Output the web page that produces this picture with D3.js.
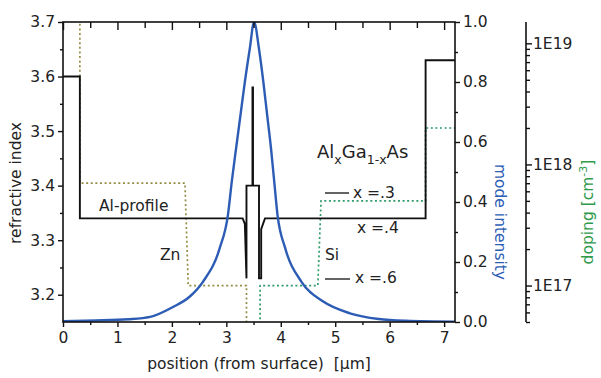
<!DOCTYPE html>
<html>
<head>
<meta charset="utf-8">
<script src="https://cdn.jsdelivr.net/npm/d3@7"></script>
<style>
  body { margin: 0; background: #fff; }
  svg { display: block; font-family: "DejaVu Sans", sans-serif; }
</style>
</head>
<body>
<svg id="chart" width="601" height="378"></svg>
<script>
// ---- data ----
const positionTicks = [0, 1, 2, 3, 4, 5, 6, 7];
const indexTicks = [3.2, 3.3, 3.4, 3.5, 3.6, 3.7];
const intensityTicks = [0, 0.2, 0.4, 0.6, 0.8, 1.0];
const dopingTicks = [1e17, 1e18, 1e19];
const dopingTickLabels = ["1E17", "1E18", "1E19"];

// Al profile -> refractive index
const alPos   = [0, 0.31, 0.31, 3.30, 3.34, 3.37, 3.37, 3.48, 3.48, 3.49, 3.49, 3.60, 3.60, 3.64, 3.64, 3.71, 6.66, 6.66, 7.2];
const alIndex = [3.60, 3.60, 3.34, 3.34, 3.33, 3.23, 3.40, 3.40, 3.58, 3.58, 3.40, 3.40, 3.23, 3.23, 3.32, 3.34, 3.34, 3.63, 3.63];

// mode intensity
const modePos = [0, 0.6, 1.2, 1.6, 2.02, 2.33, 2.57, 2.88, 3.03, 3.10, 3.18, 3.26, 3.34, 3.43, 3.51, 3.60, 3.68, 3.75, 3.82, 3.88, 3.94, 4.08, 4.38, 4.78, 5.27, 5.8, 6.3, 7.2];
const modeInt = [0.003, 0.005, 0.009, 0.017, 0.05, 0.085, 0.134, 0.247, 0.357, 0.468, 0.58, 0.69, 0.80, 0.91, 1.0, 0.91, 0.80, 0.69, 0.58, 0.468, 0.357, 0.247, 0.134, 0.068, 0.029, 0.01, 0.004, 0.001];

// doping (cm^-3)
const znPos    = [0, 0.31, 0.31, 2.24, 2.30, 3.37, 3.37];
const znDoping = [3e19, 3e19, 7e17, 7e17, 1e17, 1e17, 1e16];
const siPos    = [3.62, 3.62, 4.68, 4.74, 6.66, 6.66, 7.2];
const siDoping = [1e16, 1e17, 1e17, 5e17, 5e17, 2e18, 2e18];

// ---- layout ----
const svg = d3.select("#chart");
const plotL = 63, plotR = 455, plotT = 22, plotB = 322;
const dopingAxisX = 526;

const x  = d3.scaleLinear().domain([0, 7.2]).range([plotL, plotR]);
const yN = d3.scaleLinear().domain([3.15, 3.7]).range([plotB, plotT]);
const yI = d3.scaleLinear().domain([0, 1]).range([plotB, plotT]);
const yD = d3.scaleLog().domain([5e16, 1.5e19]).range([plotB, plotT]);

const zip = (a, b) => a.map((v, i) => [v, b[i]]);

svg.append("clipPath").attr("id", "plot-clip")
  .append("rect")
    .attr("x", plotL).attr("y", plotT)
    .attr("width", plotR - plotL).attr("height", plotB - plotT);

const plot = svg.append("g").attr("clip-path", "url(#plot-clip)");

// doping profiles (dotted)
const dopLine = d3.line().x(d => x(d[0])).y(d => yD(d[1]));

plot.append("path")
  .datum(zip(znPos, znDoping))
  .attr("d", dopLine)
  .attr("fill", "none")
  .attr("stroke", "#958d45")
  .attr("stroke-width", 1.7)
  .attr("stroke-dasharray", "2,2.6");

plot.append("path")
  .datum(zip(siPos, siDoping))
  .attr("d", dopLine)
  .attr("fill", "none")
  .attr("stroke", "#2f9a6c")
  .attr("stroke-width", 1.7)
  .attr("stroke-dasharray", "2,2.6");

// Al profile
plot.append("path")
  .datum(zip(alPos, alIndex))
  .attr("d", d3.line().x(d => x(d[0])).y(d => yN(d[1])))
  .attr("fill", "none")
  .attr("stroke", "#111")
  .attr("stroke-width", 1.9)
  .attr("stroke-linejoin", "miter");

// mode intensity
plot.append("path")
  .datum(zip(modePos, modeInt))
  .attr("d", d3.line().curve(d3.curveMonotoneX).x(d => x(d[0])).y(d => yI(d[1])))
  .attr("fill", "none")
  .attr("stroke", "#2d5cb4")
  .attr("stroke-width", 2.4);

// ---- axes ----
function styleAxis(g, fontSize) {
  g.select(".domain").remove();
  g.selectAll("line").attr("stroke", "#111").attr("stroke-width", 1.4);
  g.selectAll("text")
    .attr("fill", "#222")
    .attr("font-family", "DejaVu Sans, sans-serif")
    .attr("font-size", fontSize);
}

const minorX = d3.range(0.5, 7.2, 1);
const minorN = [3.25, 3.35, 3.45, 3.55, 3.65];
const minorI = [0.1, 0.3, 0.5, 0.7, 0.9];

// bottom
svg.append("g").attr("transform", `translate(0,${plotB})`)
  .call(d3.axisBottom(x).tickValues(positionTicks).tickSize(5).tickPadding(5).tickFormat(d3.format("d")))
  .call(g => styleAxis(g, 15.5));
svg.append("g").attr("transform", `translate(0,${plotB})`)
  .call(d3.axisBottom(x).tickValues(minorX).tickSize(3).tickFormat(""))
  .call(g => styleAxis(g, 15));

// top (inward ticks)
svg.append("g").attr("transform", `translate(0,${plotT})`)
  .call(d3.axisTop(x).tickValues(positionTicks).tickSize(-8).tickFormat(""))
  .call(g => styleAxis(g, 15));
svg.append("g").attr("transform", `translate(0,${plotT})`)
  .call(d3.axisTop(x).tickValues(minorX).tickSize(-6).tickFormat(""))
  .call(g => styleAxis(g, 15));

// left: refractive index
svg.append("g").attr("transform", `translate(${plotL},0)`)
  .call(d3.axisLeft(yN).tickValues(indexTicks).tickSize(5).tickPadding(3).tickFormat(d3.format(".1f")))
  .call(g => styleAxis(g, 15.5));
svg.append("g").attr("transform", `translate(${plotL},0)`)
  .call(d3.axisLeft(yN).tickValues(minorN).tickSize(3).tickFormat(""))
  .call(g => styleAxis(g, 15));

// right: mode intensity
svg.append("g").attr("transform", `translate(${plotR},0)`)
  .call(d3.axisRight(yI).tickValues(intensityTicks).tickSize(5).tickPadding(3).tickFormat(d3.format(".1f")))
  .call(g => styleAxis(g, 15.5));
svg.append("g").attr("transform", `translate(${plotR},0)`)
  .call(d3.axisRight(yI).tickValues(minorI).tickSize(3).tickFormat(""))
  .call(g => styleAxis(g, 15));

// frame
svg.append("rect")
  .attr("x", plotL).attr("y", plotT)
  .attr("width", plotR - plotL).attr("height", plotB - plotT)
  .attr("fill", "none").attr("stroke", "#111").attr("stroke-width", 1.6);

// doping axis (log)
const dopingMinor = yD.ticks().filter(v => !dopingTicks.includes(v));
svg.append("g").attr("transform", `translate(${dopingAxisX},0)`)
  .call(d3.axisRight(yD).tickValues(dopingTicks).tickSize(6).tickPadding(1)
    .tickFormat((d, i) => dopingTickLabels[i]))
  .call(g => styleAxis(g, 15.5));
svg.append("g").attr("transform", `translate(${dopingAxisX},0)`)
  .call(d3.axisRight(yD).tickValues(dopingMinor).tickSize(4).tickFormat(""))
  .call(g => styleAxis(g, 15));
svg.append("line")
  .attr("x1", dopingAxisX).attr("x2", dopingAxisX)
  .attr("y1", plotT).attr("y2", plotB)
  .attr("stroke", "#111").attr("stroke-width", 1.6);

// ---- axis titles ----
svg.append("text")
  .attr("x", (plotL + plotR) / 2).attr("y", 369)
  .attr("text-anchor", "middle")
  .attr("font-size", 15.5)
  .attr("fill", "#222")
  .style("white-space", "pre")
  .text("position (from surface)  [\u00b5m]");

svg.append("text")
  .attr("transform", "translate(21,183) rotate(-90)")
  .attr("text-anchor", "middle")
  .attr("font-size", 15.5)
  .attr("fill", "#222")
  .text("refractive index");

svg.append("text")
  .attr("transform", "translate(495,222) rotate(90)")
  .attr("text-anchor", "middle")
  .attr("font-size", 15.5)
  .attr("fill", "#2d5cb4")
  .text("mode intensity");

const dopTitle = svg.append("text")
  .attr("transform", "translate(593,212) rotate(-90)")
  .attr("text-anchor", "middle")
  .attr("font-size", 15.5)
  .attr("fill", "#2f9a4c");
dopTitle.append("tspan").text("doping  [cm");
dopTitle.append("tspan").attr("dy", -6).attr("font-size", 11).text("-3");
dopTitle.append("tspan").attr("dy", 6).text("]");

// ---- annotations ----
const note = (tx, ty, str, size = 15.5) =>
  svg.append("text").attr("x", tx).attr("y", ty)
    .attr("font-size", size).attr("fill", "#222").text(str);

note(99, 211, "Al-profile");
note(160, 260, "Zn");
note(325, 260, "Si");

const alGa = svg.append("text").attr("x", 317).attr("y", 158)
  .attr("font-size", 18).attr("fill", "#222");
alGa.append("tspan").text("Al");
alGa.append("tspan").attr("dy", 6).attr("font-size", 12.5).text("x");
alGa.append("tspan").attr("dy", -6).text("Ga");
alGa.append("tspan").attr("dy", 6).attr("font-size", 12.5).text("1-x");
alGa.append("tspan").attr("dy", -6).text("As");

svg.append("line").attr("x1", 325).attr("x2", 349).attr("y1", 193).attr("y2", 193)
  .attr("stroke", "#222").attr("stroke-width", 1.4);
note(353, 198, "x =.3");
note(357, 233, "x =.4");
svg.append("line").attr("x1", 325).attr("x2", 350).attr("y1", 279).attr("y2", 279)
  .attr("stroke", "#222").attr("stroke-width", 1.4);
note(355, 283, "x =.6");
</script>
</body>
</html>
